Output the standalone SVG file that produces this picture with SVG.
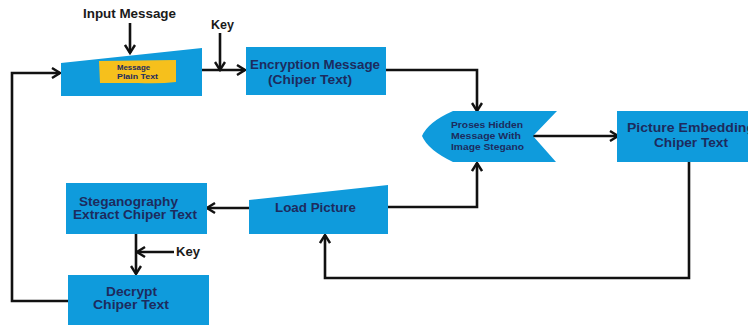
<svg xmlns="http://www.w3.org/2000/svg" width="748" height="325" viewBox="0 0 748 325">
  <style>
    .shape { fill: #0f9bdc; }
    .label { font-family: "Liberation Sans", Arial, sans-serif; font-weight: bold; fill: #1d2b5e; }
    .note { font-family: "Liberation Sans", Arial, sans-serif; font-weight: bold; fill: #1a1a1a; }
    .wire { fill: none; stroke: #111; stroke-width: 2.6; stroke-linejoin: miter; }
  </style>
  <defs>
    <marker id="arrow" viewBox="0 0 12 12" refX="10" refY="6" markerWidth="12" markerHeight="12" markerUnits="userSpaceOnUse" orient="auto">
      <path d="M2,1 L10,6 L2,11" fill="none" stroke="#111" stroke-width="2.4"/>
    </marker>
  </defs>

  <rect width="748" height="325" fill="#ffffff"/>

  <g id="connectors">
    <!-- input message label down into the input box -->
    <path class="wire" d="M130,23 V53" marker-end="url(#arrow)"/>
    <!-- key down onto the encryption arrow -->
    <path class="wire" d="M220,33 V70" marker-end="url(#arrow)"/>
    <!-- input box to encryption -->
    <path class="wire" d="M202,70 H245" marker-end="url(#arrow)"/>
    <!-- encryption to steganography process -->
    <path class="wire" d="M386,70 H477 V111" marker-end="url(#arrow)"/>
    <!-- process to picture embedding -->
    <path class="wire" d="M533,136 H618" marker-end="url(#arrow)"/>
    <!-- picture embedding back to load picture -->
    <path class="wire" d="M689,162 V278 H325 V235" marker-end="url(#arrow)"/>
    <!-- load picture up to process -->
    <path class="wire" d="M388,207 H477 V163" marker-end="url(#arrow)"/>
    <!-- load picture to extraction -->
    <path class="wire" d="M249,208 H207" marker-end="url(#arrow)"/>
    <!-- extraction to decrypt -->
    <path class="wire" d="M136,234 V274" marker-end="url(#arrow)"/>
    <!-- key into the decrypt arrow -->
    <path class="wire" d="M174,252 H137" marker-end="url(#arrow)"/>
    <!-- decrypt loop back to input -->
    <path class="wire" d="M68,301 H12 V73 H60" marker-end="url(#arrow)"/>
  </g>

  <text class="note" x="83" y="18" font-size="12.5" textLength="93" lengthAdjust="spacingAndGlyphs">Input Message</text>
  <text class="note" x="211" y="29" font-size="12.5" textLength="23" lengthAdjust="spacingAndGlyphs">Key</text>
  <text class="note" x="176" y="256" font-size="12" textLength="24" lengthAdjust="spacingAndGlyphs">Key</text>

  <g id="input-message">
    <polygon class="shape" points="61,63 202,48 202,96 61,96"/>
    <path d="M99,61 L176,60 L176,82 Q160,84 138,83 L100,83 Z" fill="#f6c01c"/>
    <text class="label" font-size="7" x="117" y="70" textLength="33" lengthAdjust="spacingAndGlyphs">Message</text>
    <text class="label" font-size="7" x="117" y="79" textLength="41" lengthAdjust="spacingAndGlyphs">Plain Text</text>
  </g>

  <g id="encryption">
    <rect class="shape" x="246" y="47" width="140" height="48"/>
    <text class="label" font-size="12" x="250" y="69" textLength="130" lengthAdjust="spacingAndGlyphs">Encryption Message</text>
    <text class="label" font-size="12" x="268" y="84" textLength="84" lengthAdjust="spacingAndGlyphs">(Chiper Text)</text>
  </g>

  <g id="hide-process">
    <path class="shape" d="M453,111 H557 L533,136 L556,162 H453 Q428,150 422,136 Q428,122 453,111 Z"/>
    <text class="label" font-size="9.5" x="451" y="128" textLength="72" lengthAdjust="spacingAndGlyphs">Proses Hidden</text>
    <text class="label" font-size="9.5" x="451" y="139" textLength="70" lengthAdjust="spacingAndGlyphs">Message With</text>
    <text class="label" font-size="9.5" x="451" y="150" textLength="73" lengthAdjust="spacingAndGlyphs">Image Stegano</text>
  </g>

  <g id="picture-embedding">
    <rect class="shape" x="617" y="111" width="150" height="51"/>
    <text class="label" font-size="12.5" x="627" y="132" textLength="128" lengthAdjust="spacingAndGlyphs">Picture Embedding</text>
    <text class="label" font-size="12.5" x="654" y="147" textLength="74" lengthAdjust="spacingAndGlyphs">Chiper Text</text>
  </g>

  <g id="load-picture">
    <polygon class="shape" points="249,200 388,185 388,234 249,234"/>
    <text class="label" font-size="12" x="275" y="212" textLength="81" lengthAdjust="spacingAndGlyphs">Load Picture</text>
  </g>

  <g id="extract">
    <rect class="shape" x="66" y="183" width="141" height="51"/>
    <text class="label" font-size="12" x="79" y="206" textLength="99" lengthAdjust="spacingAndGlyphs">Steganography</text>
    <text class="label" font-size="12" x="73" y="219" textLength="124" lengthAdjust="spacingAndGlyphs">Extract Chiper Text</text>
  </g>

  <g id="decrypt">
    <rect class="shape" x="68" y="275" width="141" height="52"/>
    <text class="label" font-size="12" x="106" y="296" textLength="51" lengthAdjust="spacingAndGlyphs">Decrypt</text>
    <text class="label" font-size="12" x="93" y="309" textLength="76" lengthAdjust="spacingAndGlyphs">Chiper Text</text>
  </g>
</svg>
